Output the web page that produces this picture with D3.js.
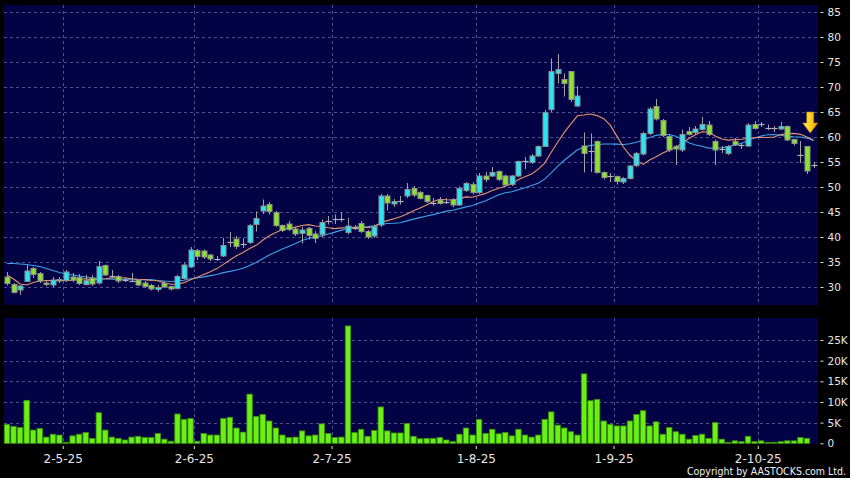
<!DOCTYPE html>
<html><head><meta charset="utf-8">
<script src="https://cdn.jsdelivr.net/npm/d3@7"></script>
<style>html,body{margin:0;padding:0;background:#000;} svg{display:block;}</style>
</head><body>
<svg id="chart" width="850" height="478"></svg>
<script>
// ---------------- DATA ----------------
const open = [32.0,30.5,29.4,31.1,33.7,32.7,30.8,30.4,31.5,31.3, 32.0,31.9,30.5,31.8,30.8,34.3,32.2,32.1,31.4,31.2,
  31.4,30.8,30.3,29.5,30.7,30.1,29.7,31.7,34.0,37.3, 37.2,36.4,35.7,36.2,38.9,39.6,38.6,38.9,42.5,45.2,
  46.5,44.9,42.3,42.6,41.6,40.7,41.7,40.6,40.5,43.3, 43.5,43.7,40.9,41.9,42.7,41.1,40.2,42.4,48.2,46.6,
  47.2,48.2,49.7,48.9,48.3,46.9,47.4,47.1,47.5,46.4, 49.3,50.5,48.9,52.2,52.2,53.1,52.2,50.5,52.2,55.1,
  54.9,56.2,58.1,65.5,72.7,71.5,73.1,66.2,58.2,57.2, 59.1,52.9,52.1,52.1,51.0,51.7,54.3,56.6,60.7,66.1,
  63.3,60.1,58.1,57.4,61.1,60.9,61.5,62.4,59.1,57.6, 56.7,59.1,58.3,58.2,62.5,62.6,61.9,61.7,61.6,62.1,
  59.5,56.5,58.1,54.5];
const high = [33.0,30.8,30.4,34.4,34.0,33.0,31.2,32.0,32.0,33.4, 32.8,32.6,32.4,32.4,35.2,34.5,33.4,32.4,31.8,32.8,
  31.6,31.2,30.6,30.4,31.2,30.3,32.4,34.8,38.0,37.6, 37.5,36.6,36.2,39.8,41.0,40.2,39.8,42.6,45.1,47.5,
  47.0,45.2,42.5,43.2,42.0,42.0,42.0,41.2,43.5,44.2, 44.5,44.9,43.8,42.4,43.2,41.4,42.5,48.6,48.6,47.6,
  48.2,50.8,50.2,49.2,48.5,47.8,48.0,47.8,47.8,50.1, 51.0,51.0,52.8,53.0,54.0,53.3,52.5,52.4,55.3,56.0,
  56.6,58.3,65.4,75.7,76.6,72.7,73.1,70.2,60.9,60.7, 59.3,53.1,52.8,52.3,52.0,54.4,57.0,61.0,66.0,67.6,
  63.6,60.4,58.4,61.5,62.0,62.2,64.0,63.2,59.5,58.2, 58.4,59.8,58.8,62.8,63.2,63.0,62.5,62.2,63.0,62.3,
  59.7,59.2,58.2,55.0];
const low = [30.3,28.7,28.4,31.0,31.8,30.8,30.2,30.0,30.8,31.0, 31.0,30.4,30.3,30.2,30.5,32.2,31.8,30.8,31.0,31.0,
  30.2,29.8,29.3,29.0,29.8,29.3,29.5,31.5,33.8,35.4, 35.6,35.2,35.2,36.0,38.0,37.6,37.8,38.6,41.1,44.6,
  44.5,42.0,41.0,41.2,40.2,38.7,39.5,38.8,40.0,42.5, 42.6,43.0,40.5,41.4,40.8,39.6,39.8,42.0,45.3,46.0,
  46.5,47.8,48.0,47.5,46.8,46.3,46.5,46.6,46.0,46.2, 49.0,48.5,48.6,51.0,52.0,51.2,50.2,50.2,52.0,53.6,
  54.6,56.0,58.0,65.0,70.7,68.1,67.0,66.0,52.9,53.0, 52.7,51.5,51.0,50.5,50.6,51.5,54.0,56.3,60.4,63.3,
  60.0,57.0,54.4,57.0,60.3,60.5,61.3,60.2,54.4,56.8, 56.4,58.2,57.6,58.0,61.5,62.0,61.4,61.0,61.4,59.2,
  58.3,54.8,52.6,53.8];
const close = [30.7,28.9,30.2,33.2,32.5,31.2,30.5,31.4,31.2,33.0, 31.4,30.7,31.3,30.6,34.1,32.4,32.1,31.2,31.4,31.2,
  30.4,30.1,29.6,29.9,30.0,29.6,32.1,34.4,37.4,36.1, 36.0,35.6,35.7,38.3,38.9,38.1,38.6,42.3,43.7,46.2,
  45.1,42.3,41.3,41.5,40.6,41.4,40.3,39.7,42.9,43.3, 43.5,43.7,42.2,41.9,41.1,40.0,42.1,48.2,46.8,47.1,
  47.2,49.5,48.4,47.7,47.1,46.9,46.7,47.1,46.4,49.7, 50.7,48.9,52.2,51.5,52.9,51.5,50.4,52.2,55.1,55.1,
  56.2,58.1,64.9,73.1,73.5,70.7,67.5,68.2,56.7,57.2, 52.9,51.9,52.1,51.1,51.7,54.2,56.7,60.7,65.6,63.6,
  60.3,57.4,57.6,60.5,60.5,61.6,62.5,60.5,57.4,57.6, 58.1,58.4,58.4,62.4,61.7,62.5,61.9,61.7,62.1,59.4,
  58.7,56.5,53.2,54.5];
const volume = [4600,4100,3800,10400,3200,3600,1500,2200,2000,250, 1800,2200,2600,1200,7400,3200,1500,1200,800,1500,
  1700,1400,1400,2400,1000,500,7100,5800,6000,500, 2400,2000,2000,6000,6300,3700,2700,11900,6500,7000,
  5400,3700,2000,1400,1500,3000,1800,2000,4700,2400, 1400,1500,28400,2600,3400,1700,3100,8800,3000,2500,
  2500,4800,1700,1100,1200,1200,1400,800,400,2200, 3700,2000,5800,2400,3400,2300,2600,1800,3400,2000,
  1500,2000,5800,7600,4400,3700,2800,2000,16800,10300, 10600,5400,4600,4200,4200,5400,7000,7900,4200,5200,
  2200,3800,2800,2200,1000,1900,2200,1200,5000,1000, 250,600,400,1700,400,600,250,250,400,600,
  600,1400,1200,0];
const ma10 = [32.4,31.6,30.6,30.4,30.9,31.2,31.3,31.3,31.3,31.28, 31.35,31.53,31.64,31.38,31.54,31.66,31.82,31.80,31.82,31.64,
  31.54,31.48,31.31,31.24,30.83,30.55,30.55,30.87,31.47,31.96, 32.52,33.07,33.68,34.52,35.41,36.26,36.91,37.70,38.33,39.34,
  40.25,40.92,41.48,41.80,41.97,42.30,42.47,42.21,42.13,41.84, 41.68,41.82,41.91,41.95,42.00,41.86,42.04,42.89,43.28,43.66,
  44.03,44.61,45.23,45.81,46.41,47.10,47.56,47.45,47.41,47.67, 48.02,47.96,48.34,48.72,49.30,49.76,50.13,50.64,51.51,52.05,
  52.60,53.52,54.79,56.95,59.01,60.93,62.64,64.24,64.40,64.61, 64.28,63.66,62.38,60.18,58.00,56.35,55.27,54.52,55.41,56.05,
  56.79,57.34,57.89,58.83,59.71,60.45,61.03,61.01,60.19,59.59, 59.37,59.47,59.55,59.74,59.86,59.95,59.89,60.01,60.48,60.66,
  60.72,60.53,60.01,59.22];
const ma20 = [34.7,34.7,34.6,34.5,34.3,34.1,33.7,33.3,32.9,32.6, 32.4,32.2,32.0,31.8,31.7,31.6,31.55,31.5,31.5,31.46,
  31.45,31.51,31.48,31.31,31.19,31.11,31.19,31.34,31.65,31.80, 32.03,32.28,32.50,32.88,33.12,33.41,33.73,34.29,34.90,35.65,
  36.39,37.00,37.58,38.16,38.69,39.28,39.69,39.96,40.23,40.59, 40.97,41.37,41.70,41.88,41.99,42.08,42.26,42.55,42.71,42.75,
  42.86,43.22,43.57,43.88,44.21,44.48,44.80,45.17,45.35,45.67, 46.03,46.29,46.79,47.27,47.86,48.43,48.85,49.05,49.46,49.86,
  50.31,50.74,51.57,52.84,54.16,55.35,56.39,57.44,57.96,58.33, 58.44,58.59,58.59,58.57,58.51,58.64,58.96,59.38,59.91,60.33,
  60.54,60.50,60.14,59.51,58.86,58.40,58.15,57.77,57.80,57.82, 58.08,58.41,58.72,59.29,59.79,60.20,60.46,60.51,60.34,60.13,
  60.05,60.00,59.78,59.48];
const tickIndex = [9, 29, 50, 72, 93, 115];
const tickLabels = ["2-5-25", "2-6-25", "2-7-25", "1-8-25", "1-9-25", "2-10-25"];
const priceTicks = [30, 35, 40, 45, 50, 55, 60, 65, 70, 75, 80, 85];
const volumeTicks = [0, 5000, 10000, 15000, 20000, 25000];
const volumeTickLabels = ["0", "5K", "10K", "15K", "20K", "25K"];
const arrowPrice = 60.8;
const copyright = "Copyright by AASTOCKS.com Ltd.";

// ---------------- LAYOUT / STYLE ----------------
const W = 850, H = 478;
const PANEL = "#020244", GRID = "#50508e";
const UP = "#2ae4f4", DOWN = "#8ce232", EDGE = "#8e8e8e", WICK = "#a4a4a4", DOJI = "#b4b4b4";
const VOL = "#6af014", VOLEDGE = "#3c900a";
const C_MA10 = "#e8946c", C_MA20 = "#3ea2e8";
const FONT = "'DejaVu Sans', Verdana, sans-serif";

const svg = d3.select("#chart");
svg.append("rect").attr("width", W).attr("height", H).attr("fill", "#000");

const n = close.length;
const xLeft = 3.7, xRight = 816.8;
const x = d3.scaleBand().domain(d3.range(n)).range([xLeft, xRight]).padding(0);
const xEdge = d3.scaleLinear().domain([0, n]).range([xLeft, xRight]);
const step = x.step();
const cx = i => x(i) + step / 2;
const y = d3.scaleLinear().domain([30, 85]).range([287, 12]);
const yv = d3.scaleLinear().domain([0, 25000]).range([443.3, 340]);

const pp = {x0: 4, x1: 818, y0: 5, y1: 305};
const vp = {x0: 4, x1: 818, y0: 318, y1: 444};

function panel(p) {
  svg.append("rect").attr("x", p.x0).attr("y", p.y0)
    .attr("width", p.x1 - p.x0).attr("height", p.y1 - p.y0).attr("fill", PANEL);
}
panel(pp); panel(vp);

function hgrid(vals, scale, p) {
  svg.append("g").selectAll("line").data(vals).join("line")
    .attr("x1", p.x0).attr("x2", p.x1)
    .attr("y1", d => Math.round(scale(d)) + 0.5).attr("y2", d => Math.round(scale(d)) + 0.5)
    .attr("stroke", GRID).attr("stroke-dasharray", "3,3").attr("stroke-width", 1);
}
function vgrid(p) {
  svg.append("g").selectAll("line").data(tickIndex).join("line")
    .attr("x1", d => Math.round(xEdge(d)) + 0.5).attr("x2", d => Math.round(xEdge(d)) + 0.5)
    .attr("y1", p.y0).attr("y2", p.y1)
    .attr("stroke", GRID).attr("stroke-dasharray", "3,3").attr("stroke-width", 1);
}
hgrid(priceTicks, y, pp); vgrid(pp);
hgrid(volumeTicks.slice(1), yv, vp); vgrid(vp);

// ---------------- MOVING AVERAGES ----------------
const idx = d3.range(n);
const line = arr => d3.line().x(i => cx(i)).y(i => y(arr[i]));
svg.append("path").attr("d", line(ma20)(idx)).attr("fill", "none")
  .attr("stroke", C_MA20).attr("stroke-width", 1.1);
svg.append("path").attr("d", line(ma10)(idx)).attr("fill", "none")
  .attr("stroke", C_MA10).attr("stroke-width", 1.1);

// ---------------- CANDLES ----------------
const bodyW = 5;
const cg = svg.append("g");
idx.forEach(i => {
  const xc = Math.round(cx(i)) + 0.5;
  cg.append("line").attr("x1", xc).attr("x2", xc)
    .attr("y1", y(high[i])).attr("y2", y(low[i])).attr("stroke", WICK).attr("stroke-width", 1);
  const o = open[i], c = close[i];
  if (Math.abs(o - c) < 0.15) {
    const yy = Math.round(y((o + c) / 2)) + 0.5;
    cg.append("line").attr("x1", xc - 3).attr("x2", xc + 3)
      .attr("y1", yy).attr("y2", yy).attr("stroke", DOJI).attr("stroke-width", 1.2);
  } else {
    const top = y(Math.max(o, c)), bot = y(Math.min(o, c));
    cg.append("rect").attr("x", xc - bodyW / 2).attr("y", top)
      .attr("width", bodyW).attr("height", Math.max(1, bot - top))
      .attr("fill", c > o ? UP : DOWN).attr("stroke", EDGE).attr("stroke-width", 1);
  }
});

// ---------------- VOLUME ----------------
svg.append("g").selectAll("rect").data(idx.filter(i => volume[i] > 0)).join("rect")
  .attr("x", i => cx(i) - 2.7).attr("width", 5.4)
  .attr("y", i => yv(volume[i])).attr("height", i => yv(0) - yv(volume[i]))
  .attr("fill", VOL).attr("stroke", VOLEDGE).attr("stroke-width", 0.8);

// ---------------- ARROW ----------------
const defs = svg.append("defs");
const grad = defs.append("linearGradient").attr("id", "arrowGrad")
  .attr("x1", "0%").attr("x2", "100%").attr("y1", "0%").attr("y2", "0%");
grad.append("stop").attr("offset", "0%").attr("stop-color", "#fff27a");
grad.append("stop").attr("offset", "50%").attr("stop-color", "#ffd21a");
grad.append("stop").attr("offset", "100%").attr("stop-color", "#e89a00");
const ax = (cx(n - 2) + cx(n - 1)) / 2, ay = y(arrowPrice);
const arrowPts = [[-3.5, -21], [3.5, -21], [3.5, -10], [7.5, -10], [0, 0], [-7.5, -10], [-3.5, -10]];
svg.append("path")
  .attr("d", "M" + arrowPts.map(p => (ax + p[0]) + "," + (ay + p[1])).join("L") + "Z")
  .attr("fill", "url(#arrowGrad)").attr("stroke", "#c98400").attr("stroke-width", 0.6);

// ---------------- AXES ----------------
function styleAxis(g, size) {
  g.select(".domain").remove();
  g.selectAll(".tick line").attr("stroke", "#e0e0e0");
  g.selectAll(".tick text").attr("fill", "#e6e6e6").style("font-family", FONT).style("font-size", size + "px");
}
svg.append("g").attr("transform", "translate(820.5,0)")
  .call(d3.axisRight(y).tickValues(priceTicks).tickSize(3).tickPadding(4))
  .call(g => styleAxis(g, 10.5));
svg.append("g").attr("transform", "translate(820.5,0)")
  .call(d3.axisRight(yv).tickValues(volumeTicks).tickSize(3).tickPadding(4)
    .tickFormat((d, i) => volumeTickLabels[i]))
  .call(g => styleAxis(g, 10.5));
svg.append("g").attr("transform", "translate(0,446)")
  .call(d3.axisBottom(xEdge).tickValues(tickIndex).tickSize(3).tickPadding(5)
    .tickFormat((d, i) => tickLabels[i]))
  .call(g => styleAxis(g, 12));

svg.append("text").attr("x", 846).attr("y", 474.5).attr("text-anchor", "end")
  .attr("fill", "#f0f0f0").style("font-family", "'DejaVu Sans Condensed', 'DejaVu Sans', sans-serif")
  .style("font-size", "10.5px").attr("textLength", 159).attr("lengthAdjust", "spacingAndGlyphs")
  .text(copyright);
</script>
</body></html>
